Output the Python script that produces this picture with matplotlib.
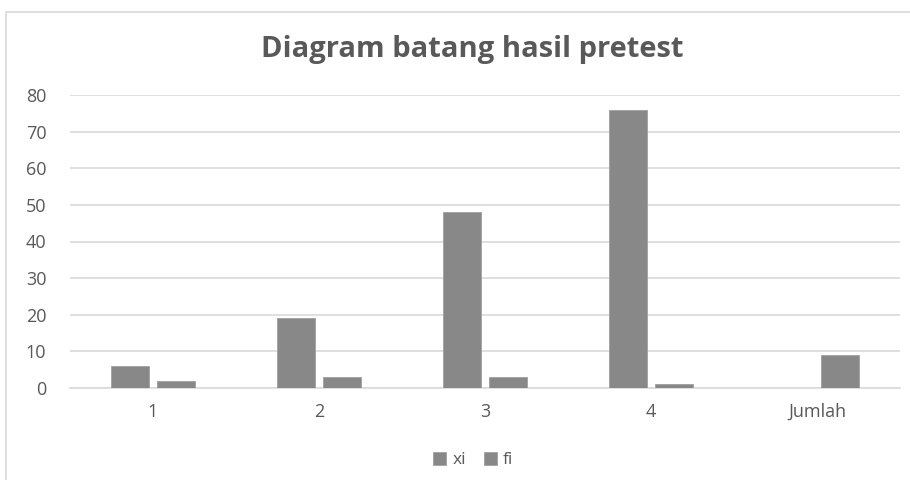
import matplotlib
matplotlib.use("Agg")
import matplotlib.pyplot as plt
import numpy as np
from matplotlib.patches import Rectangle

categories = ["1", "2", "3", "4", "Jumlah"]
xi = [6, 19, 48, 76, 0]
fi = [2, 3, 3, 1, 9]
yticks = [0, 10, 20, 30, 40, 50, 60, 70, 80]

plt.rcParams['font.family'] = ['Open Sans', 'DejaVu Sans']
text_color = "#595959"
bar_color = "#888888"
grid_color = "#d9d9d9"

fig = plt.figure(figsize=(9.1, 4.8), dpi=100)
fig.patches.append(Rectangle((6/910, -0.01), 1.0, 1 - 12/480 + 0.01, transform=fig.transFigure,
                             fill=False, edgecolor="#d9d9d9", linewidth=1.2))
ax = fig.add_axes([70/910, 1 - 388/480, 830/910, (388 - 95)/480])

x = np.arange(len(categories))
w = 0.23
off = 0.14
xi_plot = [v if v != 0 else np.nan for v in xi]
ax.bar(x - off, xi_plot, width=w, color=bar_color, edgecolor="#a0a0a0", linewidth=0.6, label="xi", zorder=3)
ax.bar(x + off, fi, width=w, color=bar_color, edgecolor="#a0a0a0", linewidth=0.6, label="fi", zorder=3)

ax.set_xlim(-0.5, len(categories) - 0.5)
ax.set_ylim(0, 80)
ax.set_yticks(yticks)
ax.set_xticks(x)
ax.set_xticklabels(categories)
ax.grid(axis="y", color=grid_color, linewidth=1.2, zorder=0)
ax.tick_params(axis="both", length=0, colors=text_color, labelsize=13)
ax.tick_params(axis="x", pad=11)
ax.tick_params(axis="y", pad=17)
for s in ["top", "right", "left"]:
    ax.spines[s].set_visible(False)
ax.spines["bottom"].set_color(grid_color)
ax.spines["bottom"].set_linewidth(1.2)

fig.text(0.5185, 1 - 50/480, "Diagram batang hasil pretest", ha="center", va="center",
         fontsize=21, color=text_color, fontweight="bold")

leg = fig.legend(loc="center", bbox_to_anchor=(0.52, 1 - 460/480), ncol=2, frameon=False,
                 fontsize=12.5, handlelength=0.75, handleheight=0.75, handletextpad=0.35, columnspacing=1.0)
for t in leg.get_texts():
    t.set_color(text_color)

fig.savefig("out.png", dpi=100)
